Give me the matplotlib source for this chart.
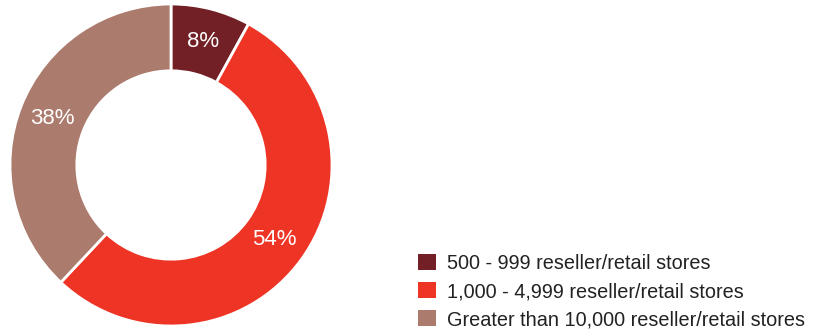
import matplotlib.pyplot as plt
from matplotlib.patches import Patch

plt.rcParams['font.family'] = ['Liberation Sans', 'DejaVu Sans']

labels = ['500 - 999 reseller/retail stores',
          '1,000 - 4,999 reseller/retail stores',
          'Greater than 10,000 reseller/retail stores']
shares = [8, 54, 38]
colors = ['#722025', '#EE3425', '#AB7B6D']

W, H = 832, 332
fig = plt.figure(figsize=(W / 100, H / 100), dpi=100)

cx, cy, r = 171, 165, 161
ax = fig.add_axes([(cx - r) / W, (H - cy - r) / H, 2 * r / W, 2 * r / H])
wedges, texts, autotexts = ax.pie(
    shares, colors=colors, startangle=90, counterclock=False,
    autopct='%d%%', pctdistance=0.79, radius=1,
    wedgeprops=dict(width=0.415, edgecolor='white', linewidth=2),
    textprops=dict(color='white', fontsize=16))
ax.set_xlim(-1, 1)
ax.set_ylim(-1, 1)
ax.set_aspect('equal')
ax.axis('off')

handles = [Patch(facecolor=c, edgecolor='none') for c in colors]
fig.legend(handles, labels, loc='lower left', bbox_to_anchor=(410 / W, -5 / H),
           frameon=False, fontsize=14.3, handlelength=0.9, handleheight=0.9,
           handletextpad=0.55, labelspacing=0.45, borderaxespad=0,
           labelcolor='#222222')

fig.savefig('out.png', dpi=100)
